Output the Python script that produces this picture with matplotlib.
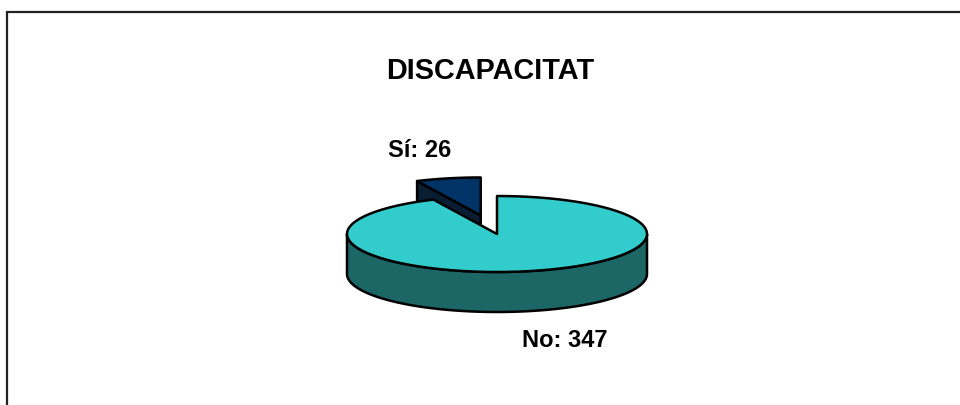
import numpy as np
import matplotlib
matplotlib.use("Agg")
from matplotlib import pyplot as plt
from matplotlib.patches import Polygon

plt.rcParams['font.family'] = ['Liberation Sans', 'DejaVu Sans']

# Datos
title = "DISCAPACITAT"
labels = ["Sí", "No"]
values = [26, 347]
top_colors = ["#003366", "#33CCCC"]
side_colors = ["#0A1E33", "#1C6666"]
explode = [0.5, 0.0]

# Geometría del pastel 3D (en píxeles)
cx, cy = 497, 234
rx, ry = 150, 38
depth = 40
start_angle = 90
label_pos = [(420, 157), (565, 347)]


def arc(t0, t1, ox=0.0, oy=0.0, dz=0.0, n=120):
    t = np.radians(np.linspace(t0, t1, n))
    return np.column_stack([cx + ox + rx * np.cos(t), cy + oy - ry * np.sin(t) + dz])


fig = plt.figure(figsize=(9.6, 4.05), dpi=100)
ax = fig.add_axes([0, 0, 1, 1])
ax.set_xlim(0, 960)
ax.set_ylim(405, 0)
ax.axis('off')

# marco del gráfico
ax.plot([7, 7, 960], [405, 12, 12], color="#222222", lw=1.6, solid_joinstyle='miter')

total = sum(values)
angles = [start_angle]
for v in values:
    angles.append(angles[-1] + 360 * v / total)

lw = 1.8
# primero la porción separada (está detrás)
for i in range(len(values)):
    t0, t1 = angles[i], angles[i + 1]
    mid = np.radians((t0 + t1) / 2)
    ox = explode[i] * rx * np.cos(mid)
    oy = -explode[i] * ry * np.sin(mid)
    apex = np.array([cx + ox, cy + oy])

    # pared radial visible (borde final)
    end = arc(t1, t1, ox, oy, n=1)[0]
    if i == 0:
        wall = [apex, end, end + [0, depth], apex + [0, depth]]
        ax.add_patch(Polygon(wall, closed=True, fc=side_colors[i], ec='black', lw=lw, joinstyle='round'))

    # pared exterior frontal
    a0, a1 = max(t0, 180), min(t1, 360)
    if a1 > a0:
        front = np.vstack([arc(a0, a1, ox, oy), arc(a1, a0, ox, oy, depth)])
        ax.add_patch(Polygon(front, closed=True, fc=side_colors[i], ec='black', lw=lw, joinstyle='round'))

    # cara superior
    top = np.vstack([apex, arc(t0, t1, ox, oy)])
    ax.add_patch(Polygon(top, closed=True, fc=top_colors[i], ec='black', lw=lw, joinstyle='round'))

for (x, y), lab, v in zip(label_pos, labels, values):
    ax.text(x, y, f"{lab}: {v}", ha='center', va='baseline', fontsize=17, fontweight='bold')

ax.text(490, 79, title, ha='center', va='baseline', fontsize=20.8, fontweight='bold')

fig.savefig("out.png", dpi=100)
